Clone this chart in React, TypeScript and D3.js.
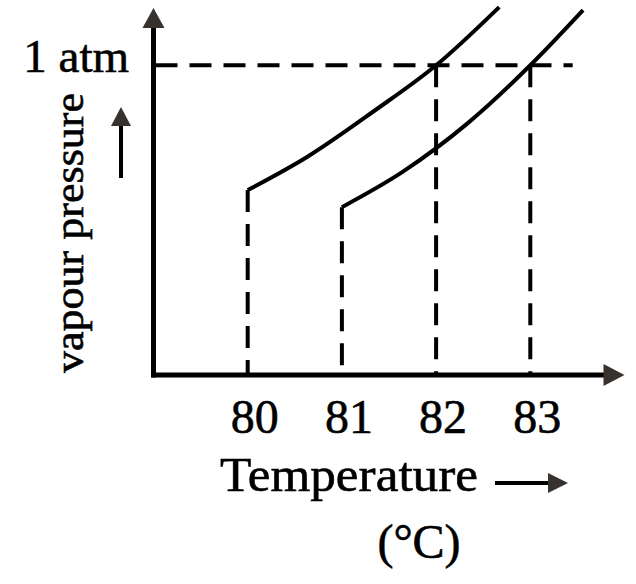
import React from 'react';
import * as d3 from 'd3';

// ---- data ----
const tempTicks = [80, 81, 82, 83];
const tickLabels = ['80', '81', '82', '83'];
const curveATemp = [80.0, 80.63, 81.33, 82.0, 82.67];
const curveAPress = [0.597, 0.704, 0.85, 1.0, 1.188];
const curveBTemp = [81.0, 81.64, 82.34, 83.0, 83.56];
const curveBPress = [0.542, 0.655, 0.814, 1.0, 1.178];
const boilingPoints = [82, 83];
const refPressure = 1;
const refLineEndTemp = 83.45;
const xDomain = [79, 84];
const yDomain = [0, 1.185];

const W = 636;
const H = 584;
const FONT = "'Liberation Serif', 'Times New Roman', serif";
const INK = '#000';
const HEAD = '#38322f';

export default function App() {
  const x = d3.scaleLinear().domain(xDomain).range([153.5, 624.5]);
  const y = d3.scaleLinear().domain(yDomain).range([375, 8]);

  const line = d3
    .line<[number, number]>()
    .x((d) => x(d[0]))
    .y((d) => y(d[1]))
    .curve(d3.curveMonotoneX);

  const ptsA: [number, number][] = curveATemp.map((t, i) => [t, curveAPress[i]]);
  const ptsB: [number, number][] = curveBTemp.map((t, i) => [t, curveBPress[i]]);

  const x0 = x(xDomain[0]);
  const y0 = y(0);
  const yTop = y(yDomain[1]);
  const xEnd = x(xDomain[1]);

  const verticals = [
    { t: curveATemp[0], p: curveAPress[0] },
    { t: curveBTemp[0], p: curveBPress[0] },
    ...boilingPoints.map((t) => ({ t, p: refPressure })),
  ];

  const dash = '22 12';
  const textStroke = { stroke: INK, strokeWidth: 0.6 };

  return (
    <svg
      width={W}
      height={H}
      style={{ position: 'absolute', left: 0, top: 0, background: '#fff' }}
    >
      <rect width={W} height={H} fill="#fff" />

      {/* dashed reference lines */}
      <line
        x1={x0 + 2}
        x2={x(refLineEndTemp)}
        y1={y(refPressure)}
        y2={y(refPressure)}
        stroke={INK}
        strokeWidth={4}
        strokeDasharray={dash}
      />
      {verticals.map((v, i) => (
        <line
          key={i}
          x1={x(v.t)}
          x2={x(v.t)}
          y1={y(v.p)}
          y2={y0}
          stroke={INK}
          strokeWidth={4}
          strokeDasharray={dash}
        />
      ))}

      {/* curves */}
      <path d={line(ptsA) || ''} fill="none" stroke={INK} strokeWidth={4} />
      <path d={line(ptsB) || ''} fill="none" stroke={INK} strokeWidth={4} />

      {/* axes */}
      <line x1={x0} x2={x0} y1={y0 + 2.5} y2={yTop + 18} stroke={INK} strokeWidth={5} />
      <polygon
        points={`${x0},${yTop} ${x0 - 11},${yTop + 20} ${x0 + 11},${yTop + 20}`}
        fill={HEAD}
      />
      <line x1={x0 - 2.5} x2={xEnd - 18} y1={y0} y2={y0} stroke={INK} strokeWidth={5} />
      <polygon
        points={`${xEnd},${y0} ${xEnd - 21},${y0 - 11} ${xEnd - 21},${y0 + 11}`}
        fill={HEAD}
      />

      {/* tick labels */}
      {tempTicks.map((t, i) => (
        <text
          key={t}
          x={x(t) + 7}
          y={433}
          textAnchor="middle"
          fontFamily={FONT}
          fontSize={48}
          fill={INK}
          {...textStroke}
        >
          {tickLabels[i]}
        </text>
      ))}

      {/* 1 atm */}
      <text
        x={129}
        y={y(refPressure) + 7}
        textAnchor="end"
        fontFamily={FONT}
        fontSize={47}
        fill={INK}
        {...textStroke}
      >
        1 atm
      </text>

      {/* y title */}
      <text
        transform="translate(83,233) rotate(-90)"
        textAnchor="middle"
        fontFamily={FONT}
        fontSize={40}
        textLength={280}
        lengthAdjust="spacingAndGlyphs"
        fill={INK}
        {...textStroke}
      >
        vapour pressure
      </text>
      <line x1={121} x2={121} y1={178} y2={122} stroke={INK} strokeWidth={4} />
      <polygon points="121,107 111,126 131,126" fill={HEAD} />

      {/* x title */}
      <text
        x={220}
        y={491}
        fontFamily={FONT}
        fontSize={48}
        textLength={258}
        lengthAdjust="spacingAndGlyphs"
        fill={INK}
        {...textStroke}
      >
        Temperature
      </text>
      <line x1={495} x2={552} y1={483} y2={483} stroke={INK} strokeWidth={4} />
      <polygon points="568,483 548,473 548,493" fill={HEAD} />
      <text
        x={419}
        y={558}
        textAnchor="middle"
        fontFamily={FONT}
        fontSize={48}
        fill={INK}
        {...textStroke}
      >
        (°C)
      </text>
    </svg>
  );
}
